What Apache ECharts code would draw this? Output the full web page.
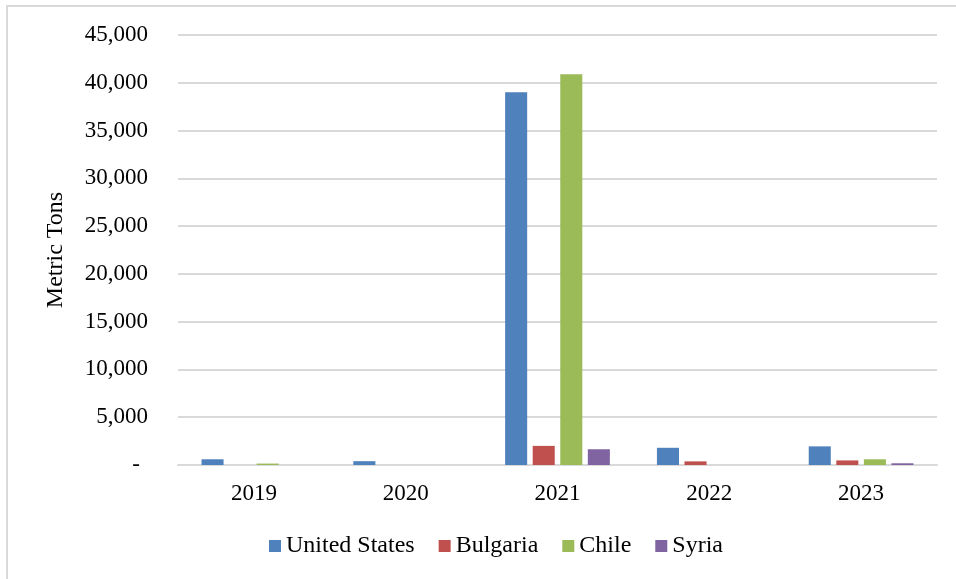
<!DOCTYPE html>
<html>
<head>
<meta charset="utf-8">
<style>
  html, body { margin: 0; padding: 0; background: #fff; }
  #chart { width: 956px; height: 579px; }
</style>
<script src="https://cdn.jsdelivr.net/npm/echarts@6/dist/echarts.min.js"></script>
</head>
<body>
<div id="chart"></div>
<script>
// Annual volumes (metric tons) by origin
const years = ['2019', '2020', '2021', '2022', '2023'];
const unitedStates = [600, 400, 39000, 1800, 1950];
const bulgaria = [0, 0, 2000, 380, 480];
const chile = [150, 0, 40900, 0, 600];
const syria = [0, 0, 1650, 0, 180];

const seriesNames = ['United States', 'Bulgaria', 'Chile', 'Syria'];
const seriesValues = [unitedStates, bulgaria, chile, syria];
const seriesColors = ['#4f81bd', '#c0504d', '#9bbb59', '#8064a2'];

const font = 'Liberation Serif, Times New Roman, serif';

const chart = echarts.init(document.getElementById('chart'), null, { renderer: 'canvas' });

chart.setOption({
  animation: false,
  backgroundColor: '#ffffff',
  textStyle: { fontFamily: font, color: '#000' },
  graphic: [{
    type: 'rect',
    shape: { x: 7, y: 6, width: 1000, height: 1000 },
    style: { fill: 'none', stroke: '#d9d9d9', lineWidth: 2 },
    silent: true,
    z: -1
  }],
  grid: { left: 178, right: 19, top: 35, bottom: 114, containLabel: false },
  legend: {
    bottom: 16,
    left: 264,
    itemWidth: 12,
    itemHeight: 12,
    itemGap: 24,
    icon: 'rect',
    textStyle: { fontFamily: font, fontSize: 24, color: '#000' },
    data: seriesNames
  },
  xAxis: {
    type: 'category',
    data: years,
    axisLine: { show: true, lineStyle: { color: '#d9d9d9', width: 2 } },
    axisTick: { show: false },
    axisLabel: { fontFamily: font, fontSize: 23, color: '#000', margin: 17 }
  },
  yAxis: {
    type: 'value',
    min: 0,
    max: 45000,
    interval: 5000,
    name: 'Metric Tons',
    nameLocation: 'middle',
    nameGap: 110,
    nameTextStyle: { fontFamily: font, fontSize: 24, color: '#000' },
    axisLine: { show: false },
    axisTick: { show: false },
    splitLine: { lineStyle: { color: '#d9d9d9', width: 2 } },
    axisLabel: {
      fontFamily: font,
      fontSize: 23,
      color: '#000',
      margin: 30,
      formatter: function (v) {
        if (v === 0) return '{d|-}';
        return v.toLocaleString('en-US');
      },
      rich: { d: { fontFamily: font, fontSize: 23, color: '#000', padding: [0, 8, 0, 0] } }
    }
  },
  series: seriesNames.map(function (name, i) {
    return {
      name: name,
      type: 'bar',
      data: seriesValues[i],
      barGap: '25%',
      barCategoryGap: '31%',
      itemStyle: { color: seriesColors[i] }
    };
  })
});
</script>
</body>
</html>
